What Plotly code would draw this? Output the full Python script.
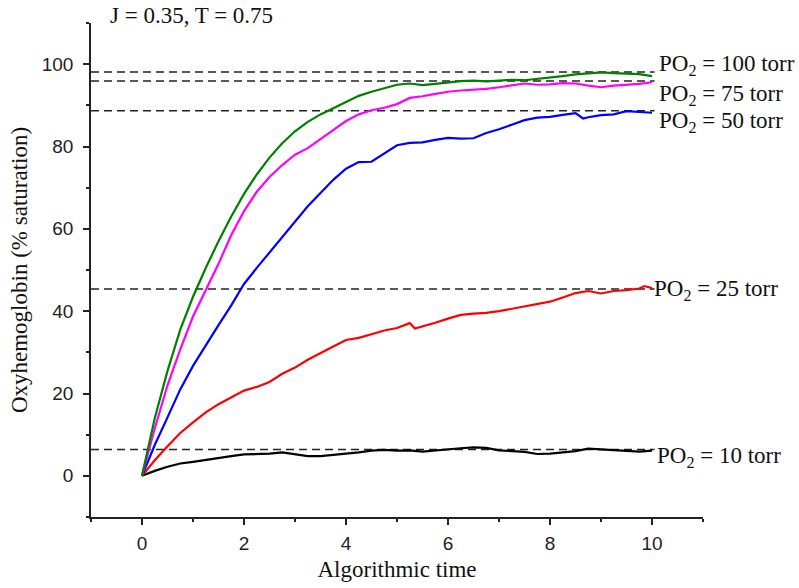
import plotly.graph_objects as go

# ---- data ----
x_grid = [0, 0.25, 0.5, 0.75, 1.0, 1.25, 1.5, 1.75, 2.0, 2.25, 2.5, 2.75, 3.0, 3.25, 3.5, 3.75,
          4.0, 4.25, 4.5, 4.75, 5.0, 5.25, 5.5, 5.75, 6.0, 6.25, 6.5, 6.75, 7.0, 7.25, 7.5, 7.75,
          8.0, 8.25, 8.5, 8.75, 9.0, 9.25, 9.5, 9.75, 10.0]

po2_100 = [0, 14.0, 25.5, 35.5, 43.5, 50.5, 57.0, 63.0, 68.5, 73.2, 77.3, 80.8, 83.7, 86.0, 87.8, 89.3,
           91.0, 92.3, 93.3, 94.2, 95.0, 95.3, 94.9, 95.2, 95.5, 95.9, 96.0, 95.8, 96.0, 96.2, 96.1, 96.4,
           96.8, 97.1, 97.5, 97.8, 98.0, 97.8, 97.7, 97.6, 97.1]

po2_75 = [0, 11.5, 22.0, 30.7, 38.7, 45.0, 51.5, 58.5, 64.3, 69.0, 72.6, 75.5, 78.0, 79.6, 81.8, 84.0,
          86.2, 87.8, 88.8, 89.4, 90.3, 91.8, 92.2, 92.8, 93.3, 93.6, 93.8, 94.0, 94.4, 94.9, 95.3, 95.0,
          95.1, 95.4, 95.3, 94.8, 94.4, 94.8, 95.0, 95.2, 95.6]

x_50 = [0, 0.25, 0.5, 0.75, 1.0, 1.25, 1.5, 1.75, 2.0, 2.25, 2.5, 2.75, 3.0, 3.25, 3.5, 3.75,
        4.0, 4.25, 4.5, 4.75, 5.0, 5.25, 5.5, 5.75, 6.0, 6.25, 6.5, 6.75, 7.0, 7.25, 7.5, 7.75,
        8.0, 8.25, 8.5, 8.65, 8.75, 9.0, 9.25, 9.5, 9.75, 10.0]
po2_50 = [0, 7.5, 14.2, 21.0, 26.7, 31.8, 36.6, 41.4, 46.6, 50.5, 54.2, 57.9, 61.7, 65.5, 68.7, 71.9,
          74.6, 76.2, 76.3, 78.3, 80.3, 80.9, 81.0, 81.6, 82.1, 81.9, 82.0, 83.3, 84.2, 85.3, 86.4, 87.0,
          87.2, 87.7, 88.1, 86.8, 87.1, 87.6, 87.8, 88.6, 88.4, 88.2]

x_25 = [0, 0.25, 0.5, 0.75, 1.0, 1.25, 1.5, 1.75, 2.0, 2.25, 2.5, 2.75, 3.0, 3.25, 3.5, 3.75,
        4.0, 4.25, 4.5, 4.75, 5.0, 5.25, 5.35, 5.5, 5.75, 6.0, 6.25, 6.5, 6.75, 7.0, 7.25, 7.5, 7.75,
        8.0, 8.25, 8.5, 8.75, 9.0, 9.25, 9.5, 9.75, 9.85, 10.0]
po2_25 = [0, 3.8, 7.2, 10.4, 13.0, 15.4, 17.4, 19.0, 20.7, 21.6, 22.8, 24.8, 26.3, 28.2, 29.9, 31.4,
          33.0, 33.5, 34.4, 35.3, 35.9, 37.1, 35.8, 36.3, 37.2, 38.2, 39.1, 39.4, 39.6, 40.0, 40.6, 41.2, 41.8,
          42.3, 43.3, 44.4, 44.9, 44.3, 44.9, 45.1, 45.5, 46.1, 45.6]

po2_10 = [0, 1.2, 2.2, 3.0, 3.4, 3.9, 4.3, 4.8, 5.2, 5.3, 5.4, 5.7, 5.3, 4.8, 4.8, 5.1,
          5.3, 5.7, 6.1, 6.3, 6.1, 6.2, 5.9, 6.2, 6.4, 6.7, 6.9, 6.8, 6.2, 6.0, 5.8, 5.3,
          5.4, 5.7, 6.0, 6.6, 6.4, 6.3, 6.1, 5.9, 6.1]

eq_levels = [98.1, 95.9, 88.7, 45.4, 6.4]
eq_x = [-1, 10.05]

labels = ["PO<sub>2</sub> = 100 torr", "PO<sub>2</sub> = 75 torr", "PO<sub>2</sub> = 50 torr",
          "PO<sub>2</sub> = 25 torr", "PO<sub>2</sub> = 10 torr"]
label_x = [10.1, 10.1, 10.1, 10.0, 10.05]
label_y = [99.8, 92.6, 86.0, 45.1, 4.6]

title_text = "J = 0.35, T = 0.75"
x_title = "Algorithmic time"
y_title = "Oxyhemoglobin (% saturation)"

serif = "Liberation Serif"
sans = "Liberation Sans"

fig = go.Figure()

for lv in eq_levels:
    fig.add_trace(go.Scatter(x=eq_x, y=[lv, lv], mode="lines",
                             line=dict(color="#222222", width=1.4, dash="8px,5px"),
                             hoverinfo="skip", showlegend=False))

series = [
    (x_grid, po2_10, "#000000"),
    (x_25, po2_25, "#ff0000"),
    (x_50, po2_50, "#0000ff"),
    (x_grid, po2_75, "#ff00ff"),
    (x_grid, po2_100, "#008000"),
]
for xs, ys, col in series:
    fig.add_trace(go.Scatter(x=xs, y=ys, mode="lines", line=dict(color=col, width=2.2),
                             showlegend=False))

for t, lx, ly in zip(labels, label_x, label_y):
    fig.add_annotation(x=lx, y=ly, xref="x", yref="y", text=t, showarrow=False,
                       xanchor="left", yanchor="middle",
                       font=dict(family=serif, size=23, color="#111111"))

fig.add_annotation(x=0.0278, y=1.0142, xref="paper", yref="paper", text=title_text,
                   showarrow=False, xanchor="left", yanchor="middle",
                   font=dict(family=serif, size=23, color="#111111"))

axis_common = dict(showline=True, linecolor="#222222", linewidth=1.6, ticks="outside",
                   ticklen=6, tickwidth=1.6, tickcolor="#222222", showgrid=False, zeroline=False,
                   tickfont=dict(family=sans, size=19, color="#222222"))

fig.update_xaxes(range=[-1, 11], tick0=0, dtick=2,
                 minor=dict(ticks="outside", ticklen=3, tickwidth=1.6, tickcolor="#222222", dtick=1, tick0=0),
                 title=dict(text=x_title, font=dict(family=serif, size=23, color="#111111"), standoff=8),
                 ticklabelstandoff=2, **axis_common)
fig.update_yaxes(range=[-10, 110], tick0=0, dtick=20,
                 minor=dict(ticks="outside", ticklen=3, tickwidth=1.6, tickcolor="#222222", dtick=10, tick0=0),
                 title=dict(text=y_title, font=dict(family=serif, size=23, color="#111111"), standoff=8),
                 ticklabelstandoff=6, **axis_common)

fig.update_layout(width=799, height=588, margin=dict(l=91, r=96, t=23, b=71, autoexpand=False),
                  plot_bgcolor="white", paper_bgcolor="white",
                  font=dict(family=serif))

fig.write_html("out.html")
